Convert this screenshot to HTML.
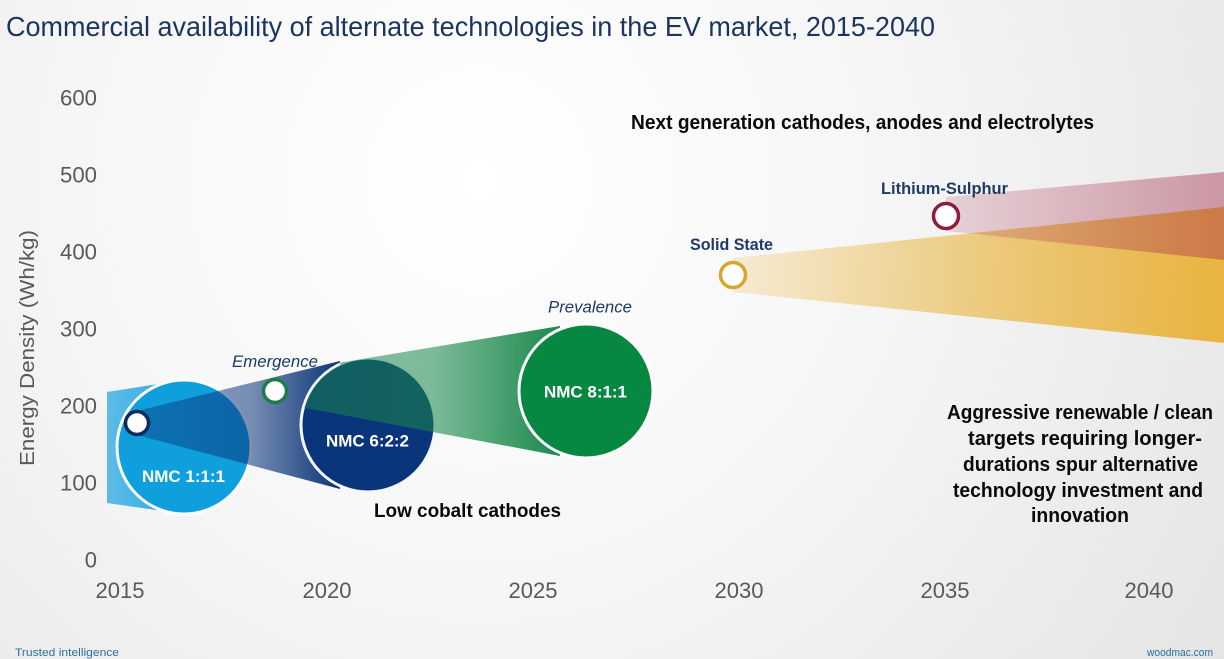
<!DOCTYPE html>
<html>
<head>
<meta charset="utf-8">
<style>
  html,body{margin:0;padding:0;}
  body{width:1224px;height:659px;overflow:hidden;background:#f2f2f2;}
  svg{display:block;}
  text{font-family:"Liberation Sans",Arial,sans-serif;}
</style>
</head>
<body>
<svg width="1224" height="659" viewBox="0 0 1224 659" xmlns="http://www.w3.org/2000/svg">
  <defs>
    <radialGradient id="bg" gradientUnits="userSpaceOnUse" cx="480" cy="180" r="900">
      <stop offset="0" stop-color="#ffffff"/>
      <stop offset="0.45" stop-color="#f6f6f6"/>
      <stop offset="1" stop-color="#e4e4e4"/>
    </radialGradient>
    <linearGradient id="lb" gradientUnits="userSpaceOnUse" x1="107" y1="0" x2="184" y2="0">
      <stop offset="0" stop-color="#5dbbe8"/>
      <stop offset="1" stop-color="#2aa8e2"/>
    </linearGradient>
    <linearGradient id="nv" gradientUnits="userSpaceOnUse" x1="137" y1="0" x2="340" y2="0">
      <stop offset="0" stop-color="#0b3478" stop-opacity="0.42"/>
      <stop offset="0.57" stop-color="#0b3478" stop-opacity="0.55"/>
      <stop offset="1" stop-color="#0b3478" stop-opacity="1"/>
    </linearGradient>
    <linearGradient id="gr" gradientUnits="userSpaceOnUse" x1="300" y1="0" x2="560" y2="0">
      <stop offset="0" stop-color="#17874a" stop-opacity="0.5"/>
      <stop offset="0.52" stop-color="#17874a" stop-opacity="0.56"/>
      <stop offset="1" stop-color="#17874a" stop-opacity="0.98"/>
    </linearGradient>
    <linearGradient id="yl" gradientUnits="userSpaceOnUse" x1="733" y1="0" x2="1224" y2="0">
      <stop offset="0" stop-color="#e9b23a" stop-opacity="0.2"/>
      <stop offset="0.5" stop-color="#e9b23a" stop-opacity="0.62"/>
      <stop offset="1" stop-color="#e9b23a" stop-opacity="0.97"/>
    </linearGradient>
    <linearGradient id="pk" gradientUnits="userSpaceOnUse" x1="946" y1="0" x2="1224" y2="0">
      <stop offset="0" stop-color="#a8324f" stop-opacity="0.18"/>
      <stop offset="1" stop-color="#a8324f" stop-opacity="0.45"/>
    </linearGradient>
    <clipPath id="gclip">
      <circle cx="368" cy="425" r="66"/>
      <rect x="340" y="300" width="300" height="200"/>
    </clipPath>
  </defs>

  <rect x="0" y="0" width="1224" height="659" fill="url(#bg)"/>

  <!-- Title -->
  <text x="6" y="36" font-size="28" fill="#1c355e" textLength="929" lengthAdjust="spacingAndGlyphs">Commercial availability of alternate technologies in the EV market, 2015-2040</text>

  <!-- Y axis labels -->
  <g font-size="22" fill="#595959" text-anchor="end">
    <text x="97" y="105.5" textLength="37" lengthAdjust="spacingAndGlyphs">600</text>
    <text x="97" y="182.5" textLength="37" lengthAdjust="spacingAndGlyphs">500</text>
    <text x="97" y="259.5" textLength="37" lengthAdjust="spacingAndGlyphs">400</text>
    <text x="97" y="336.5" textLength="37" lengthAdjust="spacingAndGlyphs">300</text>
    <text x="97" y="413.5" textLength="37" lengthAdjust="spacingAndGlyphs">200</text>
    <text x="97" y="490.5" textLength="37" lengthAdjust="spacingAndGlyphs">100</text>
    <text x="97" y="567.5">0</text>
  </g>
  <text transform="translate(34,348) rotate(-90)" font-size="20" fill="#595959" text-anchor="middle" textLength="236" lengthAdjust="spacingAndGlyphs">Energy Density (Wh/kg)</text>

  <!-- X axis labels -->
  <g font-size="22" fill="#595959" text-anchor="middle">
    <text x="120" y="598" textLength="49" lengthAdjust="spacingAndGlyphs">2015</text>
    <text x="327" y="598" textLength="49" lengthAdjust="spacingAndGlyphs">2020</text>
    <text x="533" y="598" textLength="49" lengthAdjust="spacingAndGlyphs">2025</text>
    <text x="739" y="598" textLength="49" lengthAdjust="spacingAndGlyphs">2030</text>
    <text x="945" y="598" textLength="49" lengthAdjust="spacingAndGlyphs">2035</text>
    <text x="1149" y="598" textLength="49" lengthAdjust="spacingAndGlyphs">2040</text>
  </g>

  <!-- Light blue trapezoid -->
  <polygon points="107,392 184,380 184,514 107,503" fill="url(#lb)"/>
  <!-- NMC 1:1:1 -->
  <circle cx="184" cy="447" r="67" fill="#0e9fdc" stroke="#ffffff" stroke-width="3"/>
  <!-- navy wedge -->
  <polygon points="137,411 340,361 340,489 137,435" fill="url(#nv)"/>
  <!-- NMC 6:2:2 -->
  <circle cx="368" cy="425" r="67" fill="#0b357a" stroke="#f4f8fb" stroke-width="3"/>
  <!-- green wedge -->
  <polygon points="290,371 560,326 560,456 290,405" fill="url(#gr)" clip-path="url(#gclip)"/>
  <!-- NMC 8:1:1 -->
  <circle cx="586" cy="391" r="67" fill="#078842" stroke="#ffffff" stroke-width="3"/>

  <!-- small markers -->
  <circle cx="137" cy="423" r="11.5" fill="#ffffff" stroke="#0c2a5c" stroke-width="3.5"/>
  <circle cx="275" cy="391" r="11.5" fill="#ffffff" stroke="#1c7c4a" stroke-width="3.5"/>

  <!-- yellow & pink wedges -->
  <polygon points="733,258 1224,207 1224,343 733,292" fill="url(#yl)"/>
  <polygon points="946,197 1224,172 1224,260 946,231" fill="url(#pk)"/>
  <circle cx="733" cy="275" r="12.5" fill="#ffffff" stroke="#d8a531" stroke-width="3.5"/>
  <circle cx="946" cy="216" r="12.5" fill="#ffffff" stroke="#8d1c3d" stroke-width="3.5"/>

  <!-- circle labels -->
  <g font-size="17" font-weight="bold" fill="#ffffff" text-anchor="middle">
    <text x="183.5" y="482" textLength="83" lengthAdjust="spacingAndGlyphs">NMC 1:1:1</text>
    <text x="367.5" y="446.5" textLength="83" lengthAdjust="spacingAndGlyphs">NMC 6:2:2</text>
    <text x="585.5" y="397.5" textLength="83" lengthAdjust="spacingAndGlyphs">NMC 8:1:1</text>
  </g>

  <g font-size="17" font-style="italic" fill="#1f3a68" text-anchor="middle">
    <text x="275" y="367" textLength="86" lengthAdjust="spacingAndGlyphs">Emergence</text>
    <text x="590" y="312.5" textLength="84" lengthAdjust="spacingAndGlyphs">Prevalence</text>
  </g>

  <g font-size="17" font-weight="bold" fill="#1f3a68" text-anchor="middle">
    <text x="731.5" y="250" textLength="83" lengthAdjust="spacingAndGlyphs">Solid State</text>
    <text x="944.5" y="194" textLength="127" lengthAdjust="spacingAndGlyphs">Lithium-Sulphur</text>
  </g>

  <!-- annotations -->
  <g font-weight="bold" fill="#0a0a0a" text-anchor="middle">
    <text x="862.5" y="129" font-size="20" textLength="463" lengthAdjust="spacingAndGlyphs">Next generation cathodes, anodes and electrolytes</text>
    <text x="467.5" y="517" font-size="19" textLength="187" lengthAdjust="spacingAndGlyphs">Low cobalt cathodes</text>
    <text x="1080" y="419" font-size="20" textLength="266" lengthAdjust="spacingAndGlyphs">Aggressive renewable / clean</text>
    <text x="1085" y="445" font-size="20" textLength="234" lengthAdjust="spacingAndGlyphs">targets requiring longer-</text>
    <text x="1080.5" y="471" font-size="20" textLength="235" lengthAdjust="spacingAndGlyphs">durations spur alternative</text>
    <text x="1078" y="497" font-size="20" textLength="250" lengthAdjust="spacingAndGlyphs">technology investment and</text>
    <text x="1080" y="522" font-size="20" textLength="98" lengthAdjust="spacingAndGlyphs">innovation</text>
  </g>

  <!-- footer -->
  <text x="15" y="656" font-size="11" fill="#2a6f9e" textLength="104" lengthAdjust="spacingAndGlyphs">Trusted intelligence</text>
  <text x="1213" y="656" font-size="11" fill="#2a6f9e" text-anchor="end" textLength="66" lengthAdjust="spacingAndGlyphs">woodmac.com</text>
</svg>
</body>
</html>
